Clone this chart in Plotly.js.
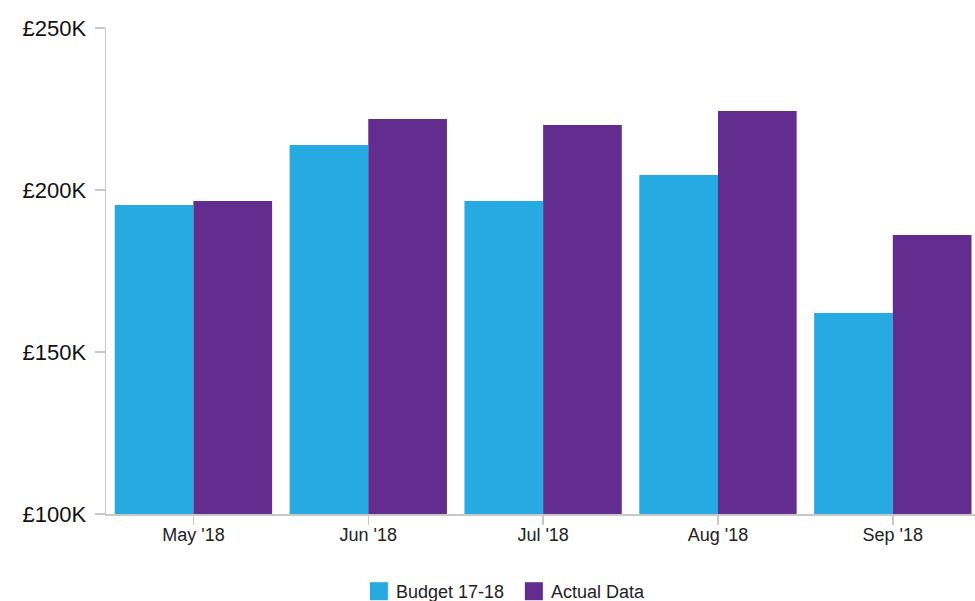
<!DOCTYPE html>
<html>
<head>
<meta charset="utf-8">
<script src="https://cdn.plot.ly/plotly-3.0.1.min.js"></script>
<style>
html,body{margin:0;padding:0;background:#fff;}
#chart{width:975px;height:601px;}
</style>
</head>
<body>
<div id="chart"></div>
<script>
var categories = ["May '18", "Jun '18", "Jul '18", "Aug '18", "Sep '18"];
var budget = [195400, 213900, 196600, 204600, 162000];
var actual = [196600, 221900, 220100, 224400, 186100];
var seriesNames = ["Budget 17-18", "Actual Data"];
var yTickVals = [100000, 150000, 200000, 250000];
var yTickText = ["£100K", "£150K", "£200K", "£250K"];

var traces = [
  {type: 'bar', name: seriesNames[0], x: categories, y: budget, marker: {color: '#27A9E1'}, hoverinfo: 'x+y'},
  {type: 'bar', name: seriesNames[1], x: categories, y: actual, marker: {color: '#632C8F'}, hoverinfo: 'x+y'}
];

var layout = {
  width: 975, height: 601,
  margin: {l: 106, r: 0, t: 28, b: 87},
  paper_bgcolor: '#fff', plot_bgcolor: '#fff',
  font: {family: '"Liberation Sans", Arial, Helvetica, sans-serif', color: '#111'},
  barmode: 'group', bargap: 0.1, bargroupgap: 0,
  showlegend: true,
  legend: {orientation: 'h', xref: 'container', yref: 'container', x: 0.365, xanchor: 'left', y: 0, yanchor: 'bottom',
           bgcolor: 'rgba(0,0,0,0)',
           font: {size: 18, color: '#222'}, traceorder: 'normal', itemwidth: 30, entrywidth: 110, entrywidthmode: 'pixels'},
  xaxis: {
    type: 'category', range: [-0.5, 4.47],
    showline: true, linecolor: '#c8c8c8', linewidth: 1.5,
    ticks: 'outside', ticklen: 9, tickcolor: '#c8c8c8', tickwidth: 1.5,
    showgrid: false, zeroline: false,
    tickfont: {size: 18, color: '#222'},
    ticklabelstandoff: -5
  },
  yaxis: {
    range: [100000, 250000],
    tickvals: yTickVals, ticktext: yTickText,
    showline: true, linecolor: '#c8c8c8', linewidth: 1.5,
    ticks: 'outside', ticklen: 10, tickcolor: '#c8c8c8', tickwidth: 1.5,
    showgrid: false, zeroline: false,
    tickfont: {size: 22, color: '#111'},
    ticklabelstandoff: 4
  }
};

Plotly.newPlot('chart', traces, layout, {displayModeBar: false, staticPlot: true}).then(function (gd) {
  gd.querySelectorAll('.legendpoints path').forEach(function (p) {
    p.setAttribute('d', 'M12,9H-6V-9H12Z');
  });
  var items = gd.querySelector('.legend .scrollbox');
  if (items) {
    var t = items.getAttribute('transform') || '';
    items.setAttribute('transform', t + ' translate(0,9)');
  }
});
</script>
</body>
</html>
